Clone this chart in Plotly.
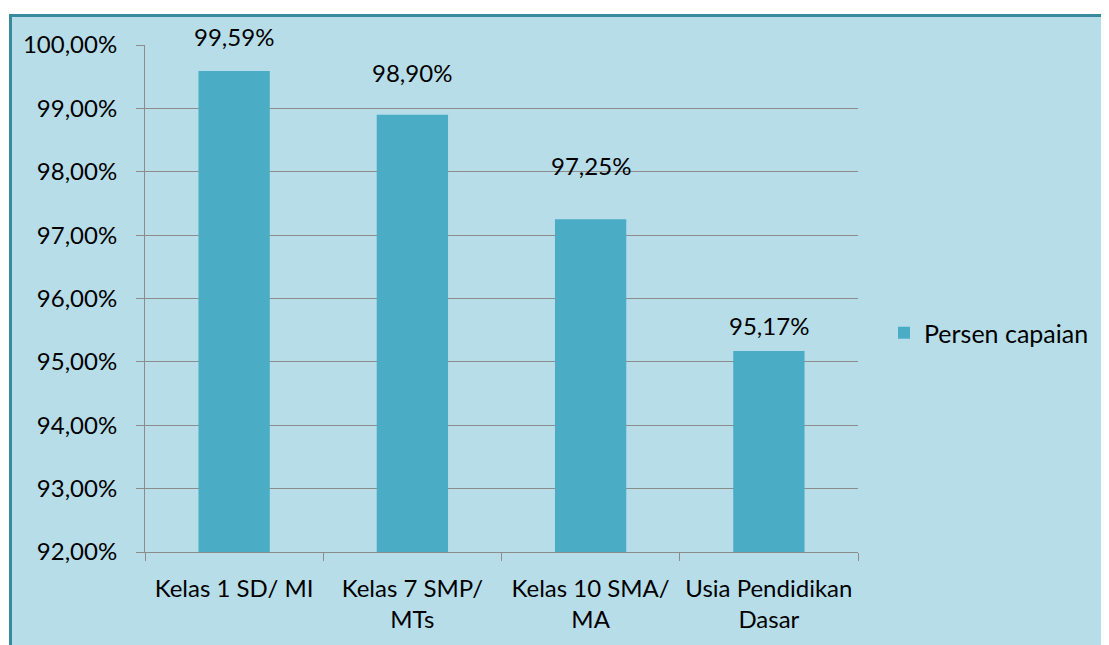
import plotly.graph_objects as go

categories = ["Kelas 1 SD/ MI", "Kelas 7 SMP/<br>MTs", "Kelas 10 SMA/<br>MA", "Usia Pendidikan<br>Dasar"]
values = [99.59, 98.90, 97.25, 95.17]
value_labels = ["99,59%", "98,90%", "97,25%", "95,17%"]
series_name = "Persen capaian"
y_ticks = [92, 93, 94, 95, 96, 97, 98, 99, 100]
y_tick_labels = ["92,00%", "93,00%", "94,00%", "95,00%", "96,00%", "97,00%", "98,00%", "99,00%", "100,00%"]

label_shifts = [34, 42, 54, 26]

OFF = 8  # page body margin
W, H = 1109, 645
L, T = 145 - OFF, 45 - OFF
pw, ph = 713, 507
R, B = W - L - pw, H - T - ph

font = dict(family="Lato, Noto Sans, sans-serif", size=24, color="#000000")
legend_font = dict(family="Lato, Noto Sans, sans-serif", size=25, color="#000000")

fig = go.Figure()
fig.add_trace(go.Bar(
    x=categories, y=values, name=series_name,
    marker=dict(color="#4bacc6", line=dict(width=0)),
    showlegend=True,
))

for c, v, t, s in zip(categories, values, value_labels, label_shifts):
    fig.add_annotation(x=c, y=v, text=t, showarrow=False, yshift=s,
                       font=font, xref="x", yref="y")

def px_x(p):
    return (p - OFF - L) / pw

def px_y(p):
    return (T + ph - (p - OFF)) / ph

fig.add_shape(type="rect", xref="paper", yref="paper",
              x0=px_x(10.5), x1=px_x(W + 20), y0=px_y(15.5), y1=px_y(H + 20),
              fillcolor="#b7dde8", line=dict(color="#3a8a9e", width=3), layer="below")

fig.update_layout(
    width=W, height=H,
    margin=dict(l=L, r=R, t=T, b=B, pad=0),
    paper_bgcolor="#ffffff",
    plot_bgcolor="#ffffff",
    font=font,
    bargap=0.6,
    legend=dict(x=px_x(884), y=px_y(333), xanchor="left", yanchor="middle",
                bgcolor="rgba(0,0,0,0)", font=legend_font, itemwidth=30),
    xaxis=dict(
        showline=True, linecolor="#8c8c8c", linewidth=1,
        ticks="outside", ticklen=8, tickcolor="#8c8c8c", tickson="boundaries",
        tickfont=font, showgrid=False, ticklabelstandoff=15,
    ),
    yaxis=dict(
        range=[92, 100], tickvals=y_ticks, ticktext=y_tick_labels,
        showline=True, linecolor="#8c8c8c", linewidth=1,
        ticks="outside", ticklen=8, tickcolor="#8c8c8c",
        showgrid=True, gridcolor="#8c8c8c", gridwidth=1,
        tickfont=font, zeroline=False, ticklabelstandoff=14,
    ),
)

fig.write_html("out.html")
